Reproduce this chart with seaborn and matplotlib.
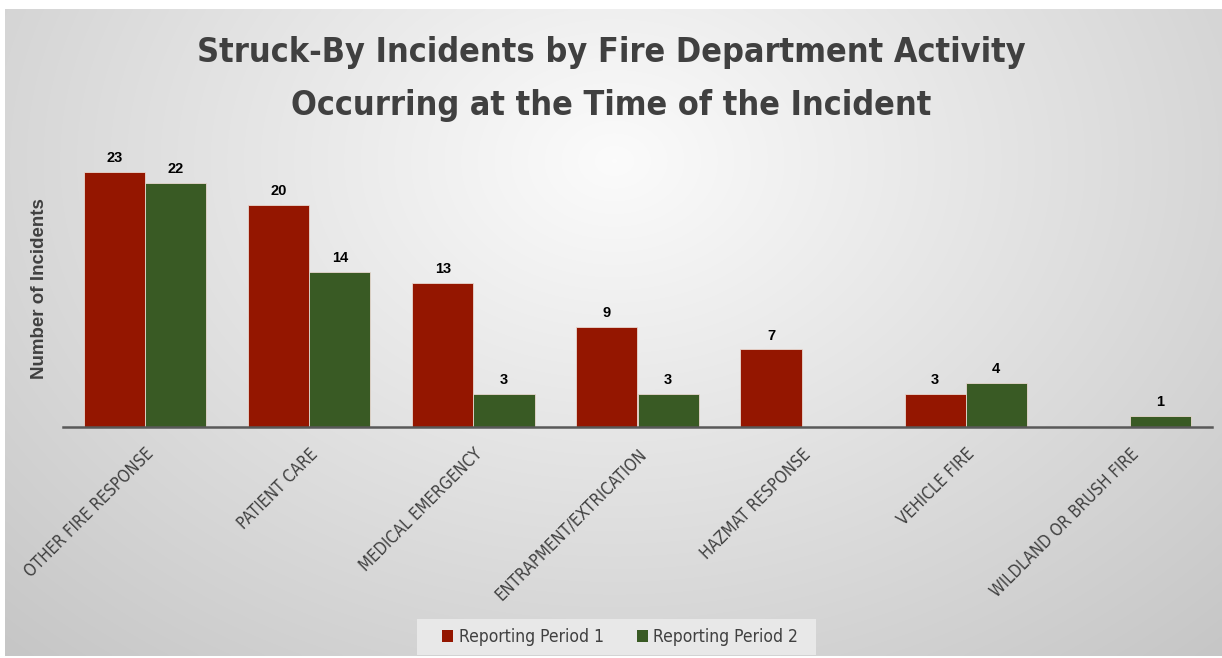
import numpy as np
import pandas as pd
import matplotlib
matplotlib.use("Agg")
import matplotlib.pyplot as plt
from matplotlib import font_manager
from matplotlib.patches import Patch, Rectangle
import seaborn as sns

# --- data ---------------------------------------------------------------
categories = [
    "OTHER FIRE RESPONSE",
    "PATIENT CARE",
    "MEDICAL EMERGENCY",
    "ENTRAPMENT/EXTRICATION",
    "HAZMAT RESPONSE",
    "VEHICLE FIRE",
    "WILDLAND OR BRUSH FIRE",
]
period_1 = [23, 20, 13, 9, 7, 3, 0]
period_2 = [22, 14, 3, 3, 0, 4, 1]
series_names = ["Reporting Period 1", "Reporting Period 2"]
colors = ["#941600", "#395a24"]

title_lines = ["Struck-By Incidents by Fire Department Activity",
               "Occurring at the Time of the Incident"]
y_label = "Number of Incidents"

df = pd.DataFrame({
    "Activity": categories * 2,
    "Period": [series_names[0]] * len(categories) + [series_names[1]] * len(categories),
    "Incidents": period_1 + period_2,
})

# --- fonts --------------------------------------------------------------
sns.set_theme(style="white")


def pick_narrow():
    for f in font_manager.fontManager.ttflist:
        name = (f.name + " " + f.fname).lower()
        if "narrow" in name and "liberation" in name:
            return f.name, f.stretch
    for f in font_manager.fontManager.ttflist:
        name = (f.name + " " + f.fname).lower()
        if "condensed" in name and "dejavu" in name:
            return f.name, "condensed"
    return None, None


narrow_family, narrow_stretch = pick_narrow()
if narrow_family is None:
    narrow_family, narrow_stretch = "Roboto", "normal"
    narrow_scale = 0.88
else:
    narrow_scale = 1.0

plt.rcParams["font.family"] = ["Liberation Sans", "DejaVu Sans"]

W, H = 1222, 658
fig = plt.figure(figsize=(W / 100, H / 100), dpi=100)
fig.patch.set_facecolor("white")

# radial grey background panel
bg = fig.add_axes([5 / W, 2 / H, (W - 5) / W, (H - 11) / H], zorder=-10)
yy, xx = np.mgrid[0:300, 0:600]
cx, cy = 300, 70
r = np.sqrt(((xx - cx) / 420.0) ** 2 + ((yy - cy) / 300.0) ** 2)
val = np.clip(0.985 - 0.2 * r, 0.76, 0.985)
bg.imshow(np.dstack([val, val, val]), aspect="auto", extent=[0, 1, 0, 1],
          interpolation="bicubic")
bg.set_axis_off()

# --- bars ---------------------------------------------------------------
ax = fig.add_axes([63 / W, (H - 427) / H, 1149 / W, 267 / H])
ax.set_facecolor("none")
sns.barplot(data=df, x="Activity", y="Incidents", hue="Period",
            palette=colors, width=0.745, gap=0, saturation=1,
            edgecolor="#e8d8d0", linewidth=0.6, ax=ax, legend=False)
ax.set_ylim(0, 24.1)
ax.set_xlim(-0.5, len(categories) - 0.5)

for container in ax.containers:
    labels = [f"{int(v)}" if v > 0 else "" for v in container.datavalues]
    ax.bar_label(container, labels=labels, padding=5, fontsize=10.5,
                 fontweight="bold", color="black")

for s in ["top", "right", "left"]:
    ax.spines[s].set_visible(False)
ax.spines["bottom"].set_color("#595959")
ax.spines["bottom"].set_linewidth(1.8)
ax.set_yticks([])
ax.set_xlabel("")
ax.set_ylabel(y_label, fontsize=13.5, fontweight="bold", color="#404040")
ax.yaxis.set_label_coords(-15 / 1149, 0.52)
ax.tick_params(axis="x", length=0, pad=13)
ax.set_xticks(range(len(categories)))
ax.set_xticklabels(categories, rotation=45, ha="right", va="top",
                   rotation_mode="anchor", family=narrow_family,
                   fontstretch=narrow_stretch, fontsize=12 * narrow_scale,
                   color="#404040")

# --- title --------------------------------------------------------------
for line, base in zip(title_lines, [62, 115]):
    fig.text(0.5, (H - base) / H, line, ha="center", va="baseline",
             fontsize=24.5 * narrow_scale, fontweight="bold", color="#404040",
             family=narrow_family, fontstretch=narrow_stretch)

# --- legend -------------------------------------------------------------
fig.add_artist(Rectangle((417 / W, (H - 655) / H), 399 / W, 36 / H,
                         transform=fig.transFigure, facecolor="#ececec",
                         edgecolor="none", alpha=0.85, zorder=1))
handles = [Patch(facecolor=c, edgecolor="none") for c in colors]
leg = fig.legend(handles, series_names, loc="center", ncol=2,
                 bbox_to_anchor=(620 / W, (H - 637) / H),
                 frameon=False, handlelength=0.65,
                 handleheight=0.65, handletextpad=0.3, columnspacing=1.9,
                 prop={"family": narrow_family, "stretch": narrow_stretch,
                       "size": 12.5 * narrow_scale})
leg.set_zorder(2)
for t in leg.get_texts():
    t.set_color("#404040")

fig.savefig("out.png", dpi=100, facecolor=fig.get_facecolor())
